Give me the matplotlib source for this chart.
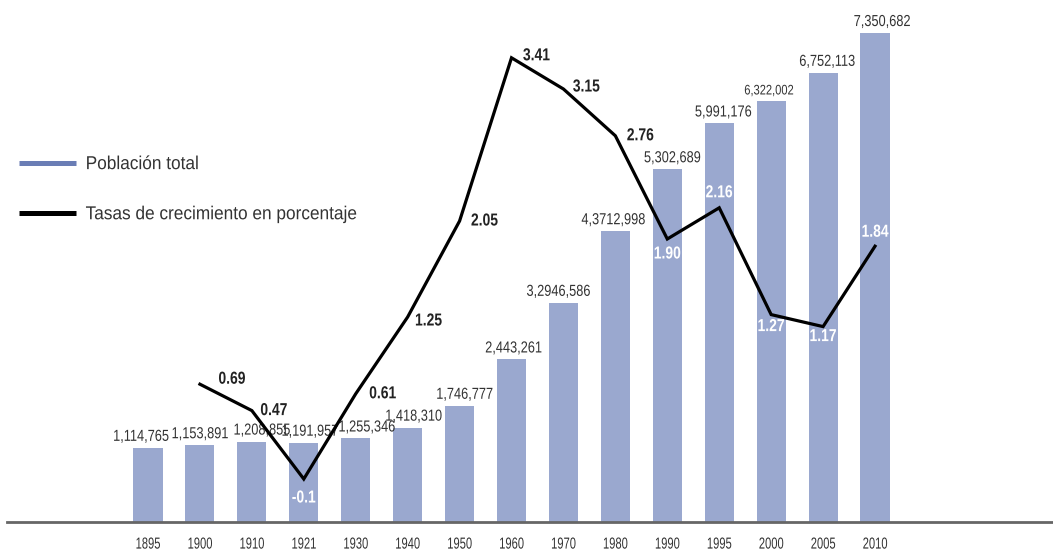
import matplotlib
matplotlib.use("Agg")
import matplotlib.pyplot as plt
from matplotlib.lines import Line2D
from matplotlib.patheffects import AbstractPathEffect
from matplotlib.transforms import Affine2D
from matplotlib.path import Path
import numpy as np

years = ["1895", "1900", "1910", "1921", "1930", "1940", "1950", "1960",
         "1970", "1980", "1990", "1995", "2000", "2005", "2010"]
population = [1114765, 1153891, 1208855, 1191957, 1255346, 1418310, 1746777,
              2443261, 3294658, 4371299, 5302689, 5991176, 6322002, 6752113, 7350682]
pop_labels = ["1,114,765", "1,153,891", "1,208,855", "1,191,957", "1,255,346",
              "1,418,310", "1,746,777", "2,443,261", "3,2946,586", "4,3712,998",
              "5,302,689", "5,991,176", "6,322,002", "6,752,113", "7,350,682"]
rate_years = ["1900", "1910", "1921", "1930", "1940", "1950", "1960",
              "1970", "1980", "1990", "1995", "2000", "2005", "2010"]
rates = [0.69, 0.47, -0.1, 0.61, 1.25, 2.05, 3.41, 3.15, 2.76, 1.90, 2.16, 1.27, 1.17, 1.84]
rate_labels = ["0.69", "0.47", "-0.1", "0.61", "1.25", "2.05", "3.41", "3.15",
               "2.76", "1.90", "2.16", "1.27", "1.17", "1.84"]

# label placement (pixel offsets) and styling, kept apart from the data
pop_dx = [-7, 0, 10, 6, 11, 6, 5, 2, -5, -2, 5, 4, -2, 4, 7]
pop_size = [11.5, 11.5, 11.5, 11.5, 11.5, 11.5, 11.5, 11.5, 11.5, 11.5, 11.5, 11.5, 10, 11.5, 11.5]
rate_dx = [32, 22, 0, 27, 21, 25, 25, 23, 25, 0, 0, 0, 0, 0]
rate_dy = [5, 0, -19, 0, -4, 0, 2, 2, 0, -15, 15, -12, -10, 14]
rate_white = [False, False, True, False, False, False, False, False, False,
              True, True, True, True, True]


class Condense(AbstractPathEffect):
    """Narrow the glyphs horizontally (condensed look) around the text anchor."""

    def __init__(self, sx=0.8, anchor="center"):
        super().__init__()
        self.sx = sx
        self.anchor = anchor

    def draw_path(self, renderer, gc, tpath, affine, rgbFace=None):
        verts = tpath.vertices
        if tpath.codes is not None:
            verts = verts[np.asarray(tpath.codes) != Path.CLOSEPOLY]
        if len(verts) == 0:
            return
        v = affine.transform(verts)
        if self.anchor == "center":
            cx = (v[:, 0].min() + v[:, 0].max()) / 2
        else:
            cx = v[:, 0].min()
        new = affine + Affine2D().translate(-cx, 0).scale(self.sx, 1).translate(cx, 0)
        renderer.draw_path(gc, tpath, new, rgbFace)


FONT = ["Liberation Sans", "DejaVu Sans"]
TXT = "#333333"

W, H = 1053, 552
DPI = 100
fig = plt.figure(figsize=(W / DPI, H / DPI), dpi=DPI)
left_px, base_px = 7, 522
ax = fig.add_axes([left_px / W, (H - base_px) / H, 1 - left_px / W, base_px / H])

step = 51.93
x0 = 148
xs = list(range(len(years)))
ax.set_xlim((left_px - x0) / step, (W - x0) / step)
ax.set_ylim(0, base_px / 66.52 * 1e6)

bar_color = "#9aa8cf"
ax.bar(xs, population, width=0.56, color=bar_color, zorder=2)

for x, v, lab, dx, fs in zip(xs, population, pop_labels, pop_dx, pop_size):
    t = ax.annotate(lab, (x, v), xytext=(dx, 7), textcoords="offset pixels",
                    ha="center", va="baseline", fontsize=fs, color=TXT, family=FONT)
    t.set_path_effects([Condense(0.8)])

for s in ["top", "right", "left"]:
    ax.spines[s].set_visible(False)
ax.spines["bottom"].set_color("#666666")
ax.spines["bottom"].set_linewidth(2)
ax.set_yticks([])
ax.set_xticks(xs)
ax.set_xticklabels(years, family=FONT, fontsize=11.5, color=TXT)
ax.tick_params(axis="x", length=0, pad=10.5)
for t in ax.get_xticklabels():
    t.set_path_effects([Condense(0.7)])

ax2 = ax.twinx()
ax2.set_ylim(-(base_px - 467) / 120, 467 / 120)
ax2.axis("off")
rx = [years.index(y) for y in rate_years]
ax2.plot(rx, rates, color="black", lw=2.3, zorder=3, solid_joinstyle="miter")

for x, v, lab, dx, dy, wh in zip(rx, rates, rate_labels, rate_dx, rate_dy, rate_white):
    t = ax2.annotate(lab, (x, v), xytext=(dx, dy), textcoords="offset pixels",
                     ha="center", va="center", fontsize=12.5, fontweight="bold",
                     color="white" if wh else "#222222", family=FONT, zorder=4)
    t.set_path_effects([Condense(0.8)])

handles = [Line2D([], [], color="#6a7db5", lw=3.6, solid_capstyle="butt"),
           Line2D([], [], color="black", lw=3.6, solid_capstyle="butt")]
leg = fig.legend(handles, ["Población total", "Tasas de crecimiento en porcentaje"],
                 loc="upper left", bbox_to_anchor=(19 / W, 1 - 156 / H),
                 frameon=False, prop=dict(family=FONT, size=13.5),
                 handlelength=3.05, handletextpad=0.5, labelspacing=1.76,
                 borderpad=0, borderaxespad=0, labelcolor=TXT)
for t in leg.get_texts():
    t.set_path_effects([Condense(0.92, anchor="left")])

fig.savefig("out.png", dpi=DPI)
